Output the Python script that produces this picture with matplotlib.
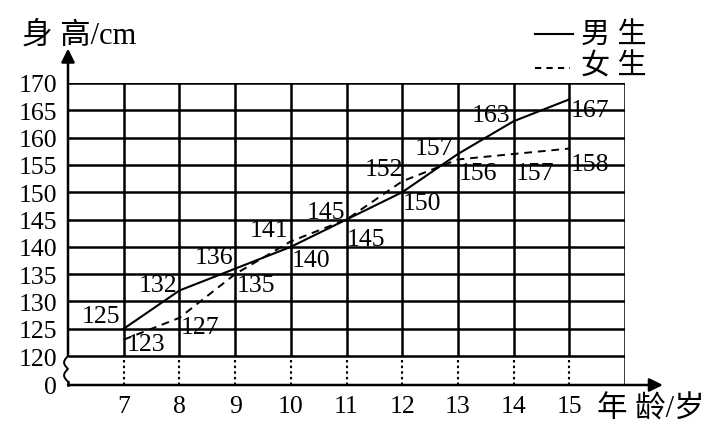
import matplotlib.pyplot as plt
import numpy as np

ages = [7, 8, 9, 10, 11, 12, 13, 14, 15]
boys = [125, 132, 136, 140, 145, 150, 157, 163, 167]
girls = [123, 127, 135, 141, 145, 152, 156, 157, 158]
y_ticks = [120, 125, 130, 135, 140, 145, 150, 155, 160, 165, 170]

# where each value label sits relative to its point (pixels)
boy_off = [(-23, 13), (-21, 6), (-21, 12), (20, -13), (19, -19),
           (20, -11), (-24, 6), (-23, 6), (21, -11)]
girl_off = [(22, -4), (21, -9), (21, -11), (-22, 11), (-21, 8),
            (-18, 12), (20, -14), (21, -19), (21, -15)]

plt.rcParams['font.family'] = ['Liberation Serif', 'Noto Sans CJK SC']

Y0 = 114.7  # position of the "0" below the axis break
fig = plt.figure(figsize=(7.12, 4.31), dpi=100)
ax = fig.add_axes([68 / 712, 45 / 431, 557 / 712, 302 / 431])
ax.set_xlim(6, 16)
ax.set_ylim(Y0, 170)
for s in ax.spines.values():
    s.set_visible(False)

lw = 1.8
# grid
ax.hlines(y_ticks, 6, 16, color='k', lw=lw)
ax.vlines(ages, 120, 170, color='k', lw=lw)
ax.vlines(ages, Y0, 120, color='k', lw=1.5, linestyles=(0, (1.2, 1.5)))
ax.vlines(16, Y0, 170, color='k', lw=lw)

# axes with arrows
ax.annotate('', xy=(16.68, Y0), xytext=(6, Y0),
            arrowprops=dict(arrowstyle='-|>', lw=lw, color='k', mutation_scale=20,
                            shrinkA=0, shrinkB=0), annotation_clip=False)
ax.annotate('', xy=(6, 176.3), xytext=(6, 120),
            arrowprops=dict(arrowstyle='-|>', lw=lw, color='k', mutation_scale=20,
                            shrinkA=0, shrinkB=0), annotation_clip=False)
# break squiggle on the y axis
t = np.linspace(0, 1, 60)
zx = 6 - 0.07 * np.abs(np.sin(t * 2 * np.pi))
zy = 120 - t * (120 - Y0 - 0.6)
ax.plot(zx, zy, color='k', lw=1.4, clip_on=False)
ax.plot([6, 6], [Y0 + 0.6, Y0], color='k', lw=lw, clip_on=False)

# data
ax.plot(ages, boys, color='k', lw=1.5, clip_on=False)
ax.plot(ages, girls, color='k', lw=1.4, linestyle=(0, (4, 3)), clip_on=False)

for x, v, o in zip(ages, boys, boy_off):
    ax.annotate(str(v), (x, v), xytext=o, textcoords='offset pixels',
                ha='center', va='center', fontsize=18.5)
for x, v, o in zip(ages, girls, girl_off):
    ax.annotate(str(v), (x, v), xytext=o, textcoords='offset pixels',
                ha='center', va='center', fontsize=18.5)

ax.set_xticks(ages)
ax.set_xticklabels([str(a) for a in ages], fontsize=18.5)
ax.set_yticks([Y0] + y_ticks)
ax.set_yticklabels(['0'] + [str(v) for v in y_ticks], fontsize=18.5)
ax.tick_params(length=0)
ax.tick_params(axis='y', pad=8)
ax.tick_params(axis='x', pad=7)

fig.text(22 / 712, 1 - 36 / 431, '身 高/cm', fontsize=22, va='center', ha='left')
fig.text(597 / 712, 1 - 410 / 431, '年 龄/岁', fontsize=22, va='center', ha='left')

# legend
ax.plot([535 / 712, 573 / 712], [1 - 35 / 431] * 2, color='k', lw=1.5,
        transform=fig.transFigure, clip_on=False)
ax.plot([535 / 712, 570 / 712], [1 - 69 / 431] * 2, color='k', lw=1.5,
        linestyle=(0, (3, 2.5)), transform=fig.transFigure, clip_on=False)
fig.text(581 / 712, 1 - 35 / 431, '男 生', fontsize=21, va='center', ha='left')
fig.text(581 / 712, 1 - 67 / 431, '女 生', fontsize=21, va='center', ha='left')

fig.savefig('out.png', dpi=100)
